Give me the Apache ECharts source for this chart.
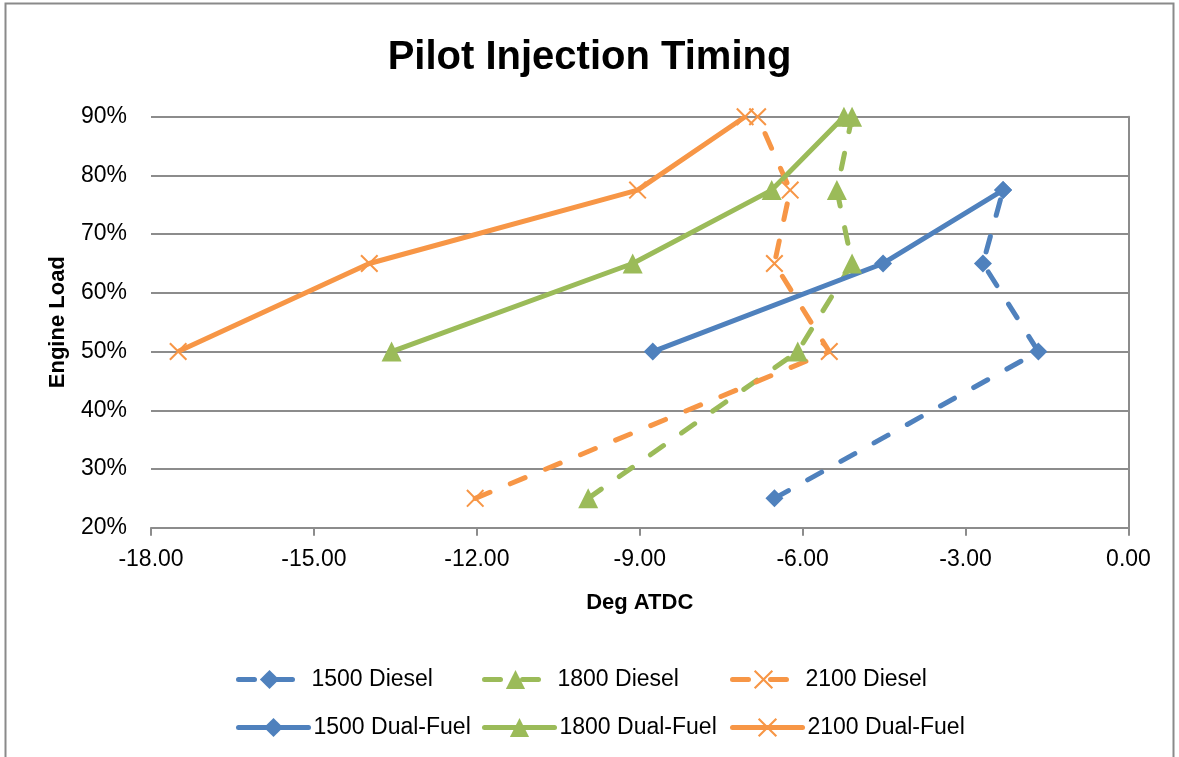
<!DOCTYPE html>
<html>
<head>
<meta charset="utf-8">
<script src="https://cdn.jsdelivr.net/npm/echarts@6/dist/echarts.min.js"></script>
<style>html,body{margin:0;padding:0;background:#fff}#c{width:1179px;height:757px}</style>
</head>
<body>
<div id="c"></div>
<script>
// ---- data (x = Deg ATDC, y = Engine Load %) ----
const seriesNames = ['1500 Diesel','1800 Diesel','2100 Diesel','1500 Dual-Fuel','1800 Dual-Fuel','2100 Dual-Fuel'];
const diesel1500 = [[-6.52,25],[-1.66,50],[-2.68,65],[-2.31,77.5]];
const diesel1800 = [[-9.95,25],[-6.09,50],[-5.09,65],[-5.37,77.5],[-5.09,90]];
const diesel2100 = [[-12.03,25],[-5.51,50],[-6.52,65],[-6.23,77.5],[-6.83,90]];
const dual1500 = [[-8.76,50],[-4.52,65],[-2.31,77.5]];
const dual1800 = [[-13.57,50],[-9.13,65],[-6.57,77.5],[-5.24,90]];
const dual2100 = [[-17.50,50],[-13.98,65],[-9.04,77.5],[-7.06,90]];
const xTicks = {min:-18, max:0, interval:3};
const yTicks = {min:20, max:90, interval:10};

const FONT = '"Liberation Sans", Arial, sans-serif';
const BLUE = '#4F81BD', GREEN = '#9BBB59', ORANGE = '#F79646';
const XSYM = 'path://M0,0.8 L0.8,0 L5,4.2 L9.2,0 L10,0.8 L5.8,5 L10,9.2 L9.2,10 L5,5.8 L0.8,10 L0,9.2 L4.2,5 Z';

function mk(name, data, color, symbol, size, dashed) {
  return {
    name, type:'line', data, symbol, symbolSize:size,
    showAllSymbol:true,
    lineStyle:{color, width:5, type: dashed ? [16,22] : 'solid', cap: dashed ? 'round':'butt'},
    itemStyle:{color, borderColor:color, borderWidth:0},
    emphasis:{disabled:true},
    z: 3
  };
}

const series = [
  mk(seriesNames[0], diesel1500, BLUE, 'diamond', 18, true),
  mk(seriesNames[1], diesel1800, GREEN, 'triangle', 20, true),
  mk(seriesNames[2], diesel2100, ORANGE, XSYM, 18, true),
  mk(seriesNames[3], dual1500, BLUE, 'diamond', 18, false),
  mk(seriesNames[4], dual1800, GREEN, 'triangle', 20, false),
  mk(seriesNames[5], dual2100, ORANGE, XSYM, 18, false)
];

const legendCols = [231, 477, 725];
const legendRows = [663, 711];
const legends = seriesNames.map((n, i) => ({
  data:[n], left: legendCols[i % 3], top: legendRows[Math.floor(i / 3)],
  itemWidth: i < 3 ? 62 : 70, itemHeight: 24, itemGap: 0, selectedMode:false,
  lineStyle:{width:5, cap:'round'},
  textStyle:{fontSize:23, color:'#000', fontFamily:FONT, padding:[0,0,0, i < 3 ? 6 : 0]}
}));

const chart = echarts.init(document.getElementById('c'), null, {renderer:'canvas'});
chart.setOption({
  animation:false,
  backgroundColor:'#fff',
  title:{text:'Pilot Injection Timing', left:'center', top:33,
    textStyle:{fontSize:40, fontWeight:'bold', color:'#000', fontFamily:FONT}},
  graphic:[{type:'rect', shape:{x:5.5, y:3.5, width:1168, height:780},
    style:{fill:'none', stroke:'#8a8a8a', lineWidth:2}, silent:true, z:-1}],
  legend: legends,
  grid:{left:151, right:50.5, top:116.7, bottom:229.3, containLabel:false},
  xAxis:{type:'value', min:xTicks.min, max:xTicks.max, interval:xTicks.interval,
    name:'Deg ATDC', nameLocation:'middle', nameGap:64,
    nameTextStyle:{fontSize:22, fontWeight:'bold', color:'#000', fontFamily:FONT},
    axisLine:{show:true, onZero:false, lineStyle:{color:'#8c8c8c', width:2}},
    axisTick:{show:true, length:8, lineStyle:{color:'#8c8c8c', width:2}},
    axisLabel:{fontSize:23, color:'#000', fontFamily:FONT, margin:20, formatter:v => v.toFixed(2)},
    splitLine:{show:false}},
  yAxis:{type:'value', min:yTicks.min, max:yTicks.max, interval:yTicks.interval,
    name:'Engine Load', nameLocation:'middle', nameGap:82, nameRotate:90,
    nameTextStyle:{fontSize:22, fontWeight:'bold', color:'#000', fontFamily:FONT},
    axisLine:{show:true, lineStyle:{color:'#8c8c8c', width:2}},
    axisTick:{show:true, length:8, lineStyle:{color:'#8c8c8c', width:2}},
    axisLabel:{fontSize:23, color:'#000', fontFamily:FONT, margin:24, formatter:v => v + '%'},
    splitLine:{show:true, lineStyle:{color:'#8c8c8c', width:2}}},
  series
});
</script>
</body>
</html>
